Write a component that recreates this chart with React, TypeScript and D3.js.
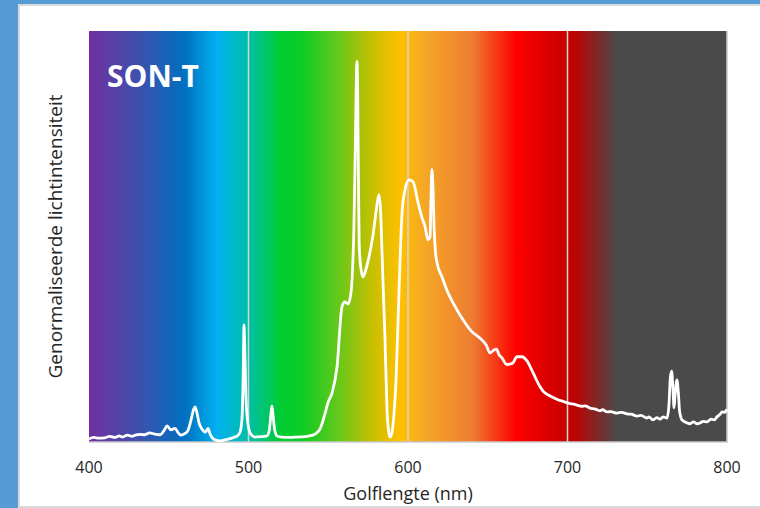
import * as d3 from 'd3';

// spectrum of a SON-T (high pressure sodium) lamp
const wavelengths = [
  400, 403, 406, 410, 413, 416, 419, 421, 424, 427, 429, 432, 435, 438, 441, 444.5, 447, 449, 451.4, 453.9,
  456, 457.5, 460, 462, 464, 465.5, 466.5, 467.5, 469, 470.8, 473, 474.6, 476, 478, 482, 486, 490, 493,
  494.7, 495.9, 496.6, 497.2, 497.8, 498.4, 499.3, 500.3, 502, 504, 508, 511.6, 513, 514, 514.7, 515.4,
  516.3, 517.9, 521, 526, 530.4, 535, 540.4, 543, 544.8, 547, 548, 549.8, 552.4, 555.5, 558.6, 560.5,
  562.4, 564.2, 565.2, 566.1, 567, 567.6, 568, 568.5, 568.9, 569.4, 570.5, 571.8, 573, 574.9, 578.1,
  580.6, 581.8, 582.8, 583.7, 584.5, 585.6, 586.8, 587.8, 588.7, 589.7, 590.6, 591.5, 592.5, 594.4,
  596.2, 598.1, 600.6, 603.1, 606.3, 608.8, 610.7, 612.5, 613.8, 614.4, 615, 615.7, 616.3, 617.2, 618.2,
  621.3, 625.1, 628.2, 631, 634.5, 638, 640.8, 643, 646.4, 649, 651.4, 653.9, 655.5, 657, 658.9, 662.1,
  664, 665.8, 668.3, 671.5, 674.6, 678.4, 682.8, 685, 687.8, 691, 694, 697, 699.7, 703, 706, 709, 711,
  714.1, 717, 720.4, 722, 724.8, 727, 731, 734, 737.3, 740, 743.6, 746, 749.8, 751, 753.6, 756, 758, 760,
  762.4, 763.6, 764.5, 765.3, 766.1, 766.8, 767.4, 768.6, 769.5, 770.3, 771.8, 774, 776.8, 779, 781,
  783.1, 785, 787.5, 790, 792, 793.7, 795.5, 797, 798.5, 800,
];

const intensity = [
  0.008, 0.012, 0.01, 0.011, 0.015, 0.012, 0.016, 0.013, 0.018, 0.015, 0.018, 0.02, 0.019, 0.024, 0.021,
  0.019, 0.03, 0.042, 0.032, 0.036, 0.024, 0.018, 0.022, 0.03, 0.058, 0.085, 0.092, 0.08, 0.05, 0.034,
  0.026, 0.036, 0.02, 0.008, 0.003, 0.006, 0.011, 0.016, 0.026, 0.06, 0.16, 0.308, 0.22, 0.12, 0.06,
  0.032, 0.018, 0.013, 0.014, 0.016, 0.03, 0.07, 0.095, 0.07, 0.035, 0.016, 0.013, 0.012, 0.013, 0.014,
  0.018, 0.025, 0.034, 0.06, 0.075, 0.103, 0.129, 0.197, 0.355, 0.368, 0.363, 0.39, 0.45, 0.566, 0.78,
  0.95, 1.0, 0.9, 0.7, 0.52, 0.455, 0.434, 0.445, 0.474, 0.545, 0.624, 0.65, 0.61, 0.5, 0.4, 0.268, 0.09,
  0.03, 0.013, 0.02, 0.045, 0.09, 0.163, 0.4, 0.597, 0.663, 0.689, 0.684, 0.629, 0.589, 0.566, 0.532,
  0.539, 0.637, 0.716, 0.663, 0.571, 0.5, 0.471, 0.434, 0.392, 0.366, 0.345, 0.321, 0.3, 0.287, 0.28,
  0.268, 0.255, 0.234, 0.242, 0.244, 0.23, 0.221, 0.203, 0.205, 0.208, 0.224, 0.224, 0.213, 0.182, 0.145,
  0.132, 0.124, 0.117, 0.111, 0.107, 0.103, 0.1, 0.097, 0.094, 0.095, 0.089, 0.087, 0.082, 0.085, 0.079,
  0.08, 0.076, 0.078, 0.074, 0.073, 0.068, 0.07, 0.063, 0.066, 0.058, 0.064, 0.06, 0.066, 0.063, 0.097,
  0.17, 0.186, 0.14, 0.09, 0.12, 0.163, 0.13, 0.08, 0.058, 0.052, 0.048, 0.053, 0.048, 0.05, 0.054,
  0.053, 0.06, 0.058, 0.066, 0.072, 0.079, 0.078, 0.086,
];

const xTicks = [400, 500, 600, 700, 800];
const gridNm = [500, 600, 700];

// background colour band of the visible spectrum
const bandNm = [400, 430, 460, 480, 500, 520, 535, 555, 578, 595, 610, 640, 668, 700, 706, 731, 800];
const bandColors = [
  '#7030a0', '#3f4fac', '#0070c0', '#00b0f0', '#00bfa8', '#00cc33', '#10cc22', '#60c81c', '#c8c000',
  '#ffc000', '#f5a826', '#ed7d31', '#ff0000', '#c40000', '#b60606', '#4a4a4a', '#4a4a4a',
];

const W = 760;
const H = 508;
const margin = { left: 89, right: 33, top: 31, bottom: 66 };
const font = '"Open Sans", sans-serif';

export default function App() {
  const x = d3.scaleLinear().domain([400, 800]).range([margin.left, W - margin.right]);
  const y = d3.scaleLinear().domain([0, 1.08]).range([H - margin.bottom, margin.top]);
  const [x0, x1] = x.range();
  const [yb, yt] = y.range();

  const pts = wavelengths.map((w, i) => [w, intensity[i]] as [number, number]);
  const line = d3
    .line<[number, number]>()
    .x((d) => x(d[0]))
    .y((d) => y(d[1]))
    .curve(d3.curveMonotoneX);

  return (
    <>
      <style>{'body{margin:0}'}</style>
      <svg width={W} height={H} style={{ display: 'block' }}>
        <defs>
          <linearGradient id="band" gradientUnits="userSpaceOnUse" x1={x0} x2={x1} y1={0} y2={0}>
            {bandNm.map((nm, i) => (
              <stop key={i} offset={(x(nm) - x0) / (x1 - x0)} stopColor={bandColors[i]} />
            ))}
          </linearGradient>
        </defs>

        {/* frame around the chart */}
        <rect x={0} y={0} width={W} height={H} fill="#559bd6" />
        <rect x={18} y={4} width={W - 18} height={H - 4} fill="#d9d9d9" />
        <rect x={20} y={6} width={W - 20} height={H - 8} fill="#ffffff" />

        <rect x={x0} y={yt} width={x1 - x0} height={yb - yt} fill="url(#band)" />

        {gridNm.map((g) => (
          <line key={g} x1={x(g)} x2={x(g)} y1={yt} y2={yb} stroke="#d6d6d6" strokeWidth={1.5} />
        ))}
        <line x1={x1} x2={x1} y1={yt} y2={yb} stroke="#c8c8c8" strokeWidth={1.5} />
        <line x1={x0} x2={x1 + 0.75} y1={yb} y2={yb} stroke="#c8c8c8" strokeWidth={1.5} />

        <path d={line(pts) ?? ''} fill="none" stroke="#ffffff" strokeWidth={2.8} strokeLinejoin="round" />

        <text x={107} y={87} fill="#ffffff" fontFamily={font} fontWeight={700} fontSize={30}>
          SON-T
        </text>

        {xTicks.map((t) => (
          <text key={t} x={x(t)} y={473} textAnchor="middle" fontFamily={font} fontSize={16} fill="#262626">
            {t}
          </text>
        ))}
        <text x={(x0 + x1) / 2} y={500} textAnchor="middle" fontFamily={font} fontSize={18} fill="#262626">
          Golflengte (nm)
        </text>
        <text
          transform={`translate(61.5,${(yt + yb) / 2}) rotate(-90)`}
          textAnchor="middle"
          fontFamily={font}
          fontSize={19}
          fill="#262626"
        >
          Genormaliseerde lichtintensiteit
        </text>
      </svg>
    </>
  );
}
